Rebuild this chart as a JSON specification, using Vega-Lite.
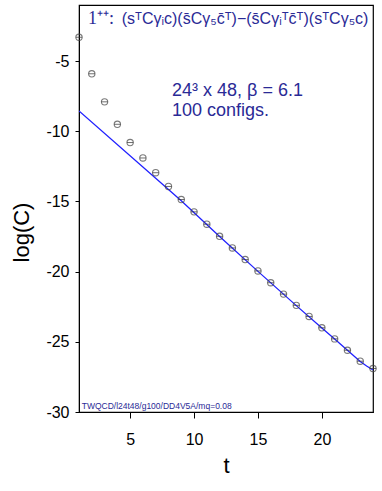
{
  "$schema": "https://vega.github.io/schema/vega-lite/v6.json",
  "width": 294,
  "height": 407,
  "autosize": {"type": "none"},
  "padding": {"left": 79, "top": 5, "right": 9, "bottom": 79},
  "background": "white",
  "config": {
    "view": {"stroke": "black", "strokeWidth": 1.2},
    "font": "Liberation Sans"
  },
  "datasets": {
    "pts": [
      {"t": 1, "logC": -3.3}, {"t": 2, "logC": -5.9}, {"t": 3, "logC": -7.9}, {"t": 4, "logC": -9.5},
      {"t": 5, "logC": -10.8}, {"t": 6, "logC": -11.9}, {"t": 7, "logC": -12.95}, {"t": 8, "logC": -13.93},
      {"t": 9, "logC": -14.86}, {"t": 10, "logC": -15.74}, {"t": 11, "logC": -16.62}, {"t": 12, "logC": -17.48},
      {"t": 13, "logC": -18.31}, {"t": 14, "logC": -19.14}, {"t": 15, "logC": -19.95}, {"t": 16, "logC": -20.79},
      {"t": 17, "logC": -21.6}, {"t": 18, "logC": -22.4}, {"t": 19, "logC": -23.19}, {"t": 20, "logC": -24.0},
      {"t": 21, "logC": -24.79}, {"t": 22, "logC": -25.6}, {"t": 23, "logC": -26.38}, {"t": 24, "logC": -26.9}
    ],
    "fit": [
      {"t": 1, "logC": -8.55}, {"t": 7, "logC": -13.35}, {"t": 9, "logC": -14.95}, {"t": 12, "logC": -17.5},
      {"t": 15, "logC": -19.98}, {"t": 18, "logC": -22.42}, {"t": 20, "logC": -24.02}, {"t": 21, "logC": -24.8},
      {"t": 22, "logC": -25.6}, {"t": 23, "logC": -26.4}, {"t": 23.5, "logC": -26.72}, {"t": 24, "logC": -27.0}
    ],
    "serifText": [
      {"t": 1.7, "logC": -2.35, "label": "1⁺⁺:"}
    ],
    "sansText": [
      {"t": 4.34, "logC": -2.35, "size": 16, "label": "(sᵀCγᵢc)(s̄Cγ₅c̄ᵀ)−(s̄Cγᵢᵀc̄ᵀ)(sᵀCγ₅c)"},
      {"t": 8.28, "logC": -7.51, "size": 18, "label": "24³ x 48, β = 6.1"},
      {"t": 8.28, "logC": -8.9, "size": 18, "label": "100 configs."},
      {"t": 1.21, "logC": -29.79, "size": 8.5, "label": "TWQCD/l24t48/g100/DD4V5A/mq=0.08"}
    ]
  },
  "layer": [
    {
      "data": {"name": "fit"},
      "mark": {"type": "line", "color": "#2020ff", "strokeWidth": 1.3, "clip": true},
      "encoding": {
        "x": {
          "field": "t", "type": "quantitative",
          "scale": {"domain": [1, 24], "nice": false, "zero": false},
          "axis": {
            "values": [5, 10, 15, 20], "grid": false, "title": "t",
            "domainColor": "black", "tickColor": "black", "tickSize": 6,
            "labelFontSize": 16, "labelColor": "black", "labelPadding": 13, "labelBaseline": "top",
            "titleFontSize": 22, "titleFontWeight": "normal", "titleColor": "black",
            "titleX": 147, "titleY": 60, "titleBaseline": "alphabetic", "titleAlign": "center"
          }
        },
        "y": {
          "field": "logC", "type": "quantitative",
          "scale": {"domain": [-30, -1], "nice": false, "zero": false},
          "axis": {
            "values": [-30, -25, -20, -15, -10, -5], "grid": false, "title": "log(C)",
            "labelExpr": "replace(datum.label, '−', '-')",
            "domainColor": "black", "tickColor": "black", "tickSize": 4,
            "labelFontSize": 16, "labelColor": "black", "labelPadding": 6,
            "titleFontSize": 22, "titleFontWeight": "normal", "titleColor": "black",
            "titleAngle": -90, "titleX": -50.6, "titleY": 227, "titleBaseline": "alphabetic", "titleAlign": "center"
          }
        }
      }
    },
    {
      "data": {"name": "pts"},
      "mark": {"type": "point", "shape": "circle", "filled": false, "stroke": "#444444", "strokeWidth": 1.1, "size": 40},
      "encoding": {
        "x": {"field": "t", "type": "quantitative"},
        "y": {"field": "logC", "type": "quantitative"}
      }
    },
    {
      "data": {"name": "pts"},
      "mark": {"type": "point", "shape": "M -1 0 L 1 0", "filled": false, "stroke": "#333333", "strokeWidth": 1, "size": 40},
      "encoding": {
        "x": {"field": "t", "type": "quantitative"},
        "y": {"field": "logC", "type": "quantitative"}
      }
    },
    {
      "data": {"name": "serifText"},
      "mark": {"type": "text", "font": "Liberation Serif", "fontSize": 18, "color": "#2a2a96", "align": "left", "baseline": "alphabetic"},
      "encoding": {
        "x": {"field": "t", "type": "quantitative"},
        "y": {"field": "logC", "type": "quantitative"},
        "text": {"field": "label"}
      }
    },
    {
      "data": {"name": "sansText"},
      "mark": {"type": "text", "font": "Liberation Sans", "color": "#2a2a96", "align": "left", "baseline": "alphabetic"},
      "encoding": {
        "x": {"field": "t", "type": "quantitative"},
        "y": {"field": "logC", "type": "quantitative"},
        "size": {"field": "size", "type": "quantitative", "scale": null, "legend": null},
        "text": {"field": "label"}
      }
    }
  ]
}
